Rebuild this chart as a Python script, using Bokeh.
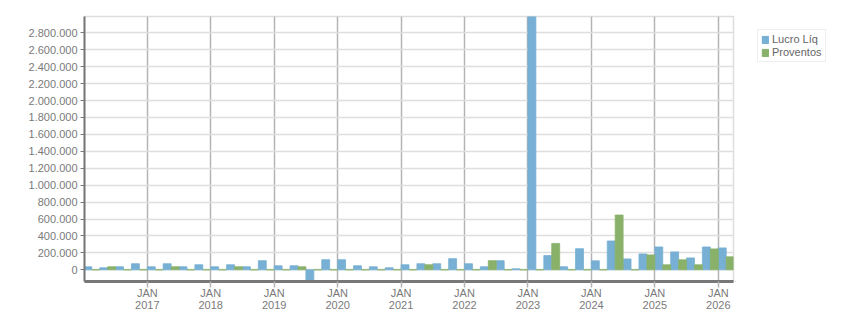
from bokeh.plotting import figure
from bokeh.layouts import row
from bokeh.models import (Range1d, FixedTicker, Legend, LegendItem,
                          ColumnDataSource)
from bokeh.embed import file_html
from bokeh.resources import INLINE

trimestres = [
    "2016-T1", "2016-T2", "2016-T3", "2016-T4",
    "2017-T1", "2017-T2", "2017-T3", "2017-T4",
    "2018-T1", "2018-T2", "2018-T3", "2018-T4",
    "2019-T1", "2019-T2", "2019-T3", "2019-T4",
    "2020-T1", "2020-T2", "2020-T3", "2020-T4",
    "2021-T1", "2021-T2", "2021-T3", "2021-T4",
    "2022-T1", "2022-T2", "2022-T3", "2022-T4",
    "2023-T1", "2023-T2", "2023-T3", "2023-T4",
    "2024-T1", "2024-T2", "2024-T3", "2024-T4",
    "2025-T1", "2025-T2", "2025-T3", "2025-T4",
    "2026-T1",
]

lucro_liq = [
    36000, 24000, 36000, 72000,
    36000, 72000, 36000, 60000,
    36000, 60000, 36000, 108000,
    48000, 48000, -138000, 120000,
    120000, 48000, 36000, 24000,
    60000, 72000, 72000, 132000,
    72000, 36000, 108000, 12000,
    2993000, 168000, 36000, 250000,
    106000, 341000, 129000, 188000,
    270000, 212000, 141000, 270000,
    259000,
]

proventos = [
    0, 36000, 0, 0,
    0, 36000, 0, 0,
    0, 36000, 0, 0,
    0, 36000, 0, 0,
    0, 0, 0, 0,
    0, 60000, 0, 0,
    0, 108000, 0, 0,
    0, 312000, 0, 0,
    0, 647000, 0, 176000,
    59000, 118000, 59000, 247000,
    153000,
]

series = ["Lucro Líq", "Proventos"]
anos_rotulo = [2017, 2018, 2019, 2020, 2021, 2022, 2023, 2024, 2025, 2026]
y_ticks = [0, 200000, 400000, 600000, 800000, 1000000, 1200000, 1400000,
           1600000, 1800000, 2000000, 2200000, 2400000, 2600000, 2800000]

AZUL = "#77b0d4"
VERDE = "#89b16a"
TXT = "#7a7a7a"


def inicio(t):
    ano, q = t.split("-T")
    return int(ano) + (int(q) - 1) / 4.0


x0 = [inicio(t) for t in trimestres]
src = ColumnDataSource(dict(
    xb=[x + 0.0625 for x in x0],
    xg=[x + 0.1875 for x in x0],
    lucro=lucro_liq,
    prov=proventos,
))

p = figure(width=735, height=313, output_backend="svg", toolbar_location=None,
           x_range=Range1d(2016.01, 2026.24),
           y_range=Range1d(min(lucro_liq), max(lucro_liq)),
           min_border_left=84, min_border_right=2,
           min_border_top=16, min_border_bottom=32)

p.background_fill_color = "white"
p.border_fill_color = "white"
p.outline_line_color = "#dddddd"
p.outline_line_width = 1.5

# grids
p.ygrid.ticker = FixedTicker(ticks=y_ticks)
p.ygrid.grid_line_color = "#dedede"
p.ygrid.grid_line_width = 1.5
p.xgrid.ticker = FixedTicker(ticks=anos_rotulo)
p.xgrid.grid_line_color = "#b4b4b4"
p.xgrid.grid_line_width = 1.5

p.vbar(x="xb", top="lucro", bottom=0, width=0.125, source=src,
       fill_color=AZUL, line_color=AZUL, line_width=0.8)
p.vbar(x="xg", top="prov", bottom=0, width=0.125, source=src,
       fill_color=VERDE, line_color=VERDE, line_width=0.8)

# y axis
ya = p.yaxis[0]
ya.ticker = FixedTicker(ticks=y_ticks)
ya.major_label_overrides = {v: f"{v:,}".replace(",", ".") for v in y_ticks}
ya.axis_line_color = "#777777"
ya.axis_line_width = 2
ya.major_tick_line_color = "#777777"
ya.major_tick_out = 4
ya.major_tick_in = 0
ya.minor_tick_line_color = None
ya.major_label_text_font = "Liberation Sans"
ya.major_label_text_font_size = "11px"
ya.major_label_text_color = TXT
ya.major_label_standoff = 3

# x axis
xa = p.xaxis[0]
xa.ticker = FixedTicker(ticks=anos_rotulo)
xa.major_label_overrides = {a: f"JAN\n{a}" for a in anos_rotulo}
xa.axis_line_color = "#777777"
xa.axis_line_width = 3
xa.major_tick_line_color = "#b4b4b4"
xa.major_tick_line_width = 1.5
xa.major_tick_out = 6
xa.major_tick_in = 0
xa.minor_tick_line_color = None
xa.major_label_text_font = "Liberation Sans"
xa.major_label_text_font_size = "11px"
xa.major_label_text_line_height = 1.0
xa.major_label_text_color = TXT
xa.major_label_standoff = -1

# legend panel (separate figure to the right of the plot); the proxy
# glyphs only provide the legend swatches and lie outside its visible range
q = figure(width=116, height=313, output_backend="svg", toolbar_location=None,
           x_range=Range1d(0, 1), y_range=Range1d(0, 1),
           x_axis_type=None, y_axis_type=None, min_border=0)
q.outline_line_color = None
q.background_fill_color = "white"
q.border_fill_color = "white"
proxy = ColumnDataSource(dict(x=[-10], top=[-10]))
lb = q.vbar(x="x", top="top", width=0.1, source=proxy,
            fill_color=AZUL, line_color=AZUL)
lg = q.vbar(x="x", top="top", width=0.1, source=proxy,
            fill_color=VERDE, line_color=VERDE)

legend = Legend(items=[LegendItem(label=series[0], renderers=[lb]),
                       LegendItem(label=series[1], renderers=[lg])],
                location=(22, 219))
legend.glyph_width = 8
legend.glyph_height = 9
legend.label_height = 11
legend.label_standoff = 3
legend.spacing = 1
legend.padding = 3
legend.margin = 0
legend.border_line_color = "#dddddd"
legend.border_line_width = 1.5
legend.background_fill_color = "white"
legend.label_text_font = "Liberation Sans"
legend.label_text_font_size = "11px"
legend.label_text_color = "#666666"
legend.label_text_baseline = "middle"
q.add_layout(legend)

layout = row(p, q, spacing=0)
open("out.html", "w").write(file_html(layout, INLINE))
